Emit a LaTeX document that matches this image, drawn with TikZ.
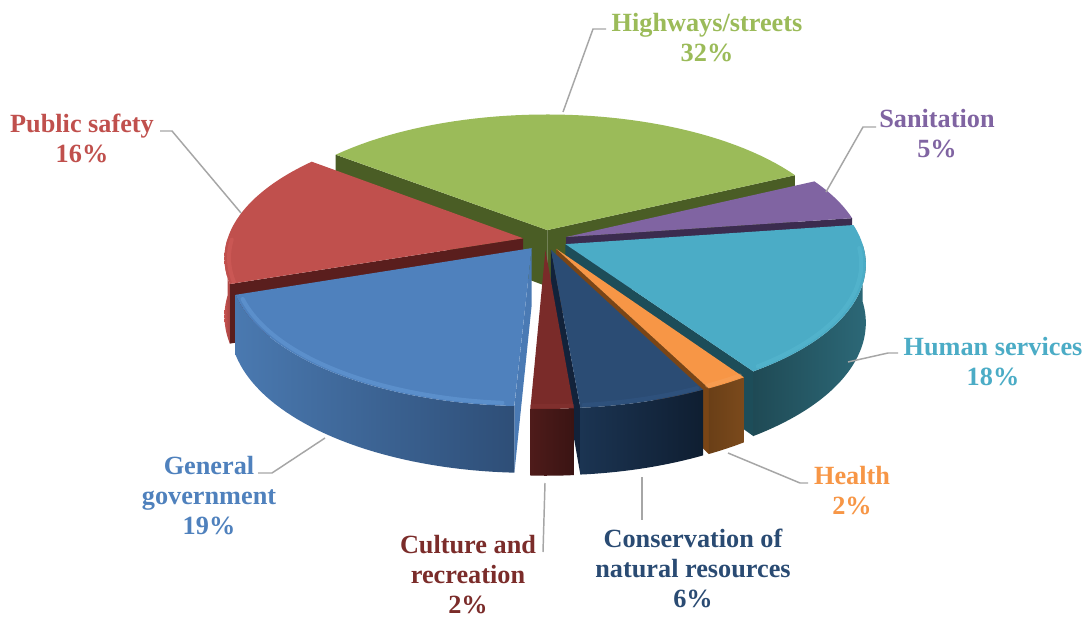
\documentclass[tikz,border=0pt]{standalone}
\usepackage{fontspec}
\setmainfont{Liberation Serif}
\definecolor{cHw}{HTML}{9BBB59}
\definecolor{cHwS}{HTML}{4A5D25}
\definecolor{cSa}{HTML}{8064A2}
\definecolor{cSaS}{HTML}{3B2C4F}
\definecolor{cHs}{HTML}{4BACC6}
\definecolor{cHsS}{HTML}{1D4D59}
\definecolor{cHsL}{HTML}{1F4A55}
\definecolor{cHsR}{HTML}{2C6877}
\definecolor{cHsH}{HTML}{5BBCD4}
\definecolor{cHe}{HTML}{F79646}
\definecolor{cHeS}{HTML}{7A4516}
\definecolor{cHeL}{HTML}{6A3F17}
\definecolor{cHeR}{HTML}{7B4A1C}
\definecolor{cCo}{HTML}{2B4C74}
\definecolor{cCoS}{HTML}{12223A}
\definecolor{cCoL}{HTML}{1B3452}
\definecolor{cCoR}{HTML}{0F1E31}
\definecolor{cCoH}{HTML}{34598A}
\definecolor{cCu}{HTML}{7A2B29}
\definecolor{cCuL}{HTML}{4E1B1A}
\definecolor{cCuR}{HTML}{3A1413}
\definecolor{cCuH}{HTML}{8A3533}
\definecolor{cGg}{HTML}{4F81BD}
\definecolor{cGgS}{HTML}{4A7AB4}
\definecolor{cGgL}{HTML}{4A79B0}
\definecolor{cGgR}{HTML}{2E4E77}
\definecolor{cGgH}{HTML}{6FA6E2}
\definecolor{cPs}{HTML}{C0504D}
\definecolor{cPsS}{HTML}{5A1E1D}
\definecolor{cPsL}{HTML}{C5524F}
\definecolor{cPsR}{HTML}{A64442}
\definecolor{cPsH}{HTML}{DA6360}
\definecolor{cHeH}{HTML}{F9A660}
\definecolor{cLead}{HTML}{A6A6A6}
\definecolor{cCuT}{HTML}{7B2C2A}
\definecolor{cCoT}{HTML}{2A4B73}
% #1 a1 (larger angle) #2 a2 #3 top #4 radial #5 outer left #6 outer right #7 rim
\newcommand\PieSlc[7]{%
 \pgfmathsetmacro\mm{(#1+#2)/2}%
 \pgfmathsetmacro\ou{0.075*cos(\mm)}%
 \pgfmathsetmacro\ov{0.075*sin(\mm)}%
 \pgfmathsetmacro\lo{max(#2,-180)}%
 \pgfmathsetmacro\hi{min(#1,0)}%
 \pgfmathtruncatemacro\visO{\lo<\hi ? 1 : 0}%
 \pgfmathtruncatemacro\visA{cos(#1)<0 ? 1 : 0}%
 \pgfmathtruncatemacro\visB{cos(#2)>0 ? 1 : 0}%
 \coordinate (At) at ({SX(\ou,\ov)},{SY(\ou,\ov,0)});
 \coordinate (Ab) at ({SX(\ou,\ov)},{SY(\ou,\ov,1)});
 \ifnum\visA=1
  \fill[#4] (At) -- ({SX(cos(#1)+\ou,sin(#1)+\ov)},{SY(cos(#1)+\ou,sin(#1)+\ov,0)})
   -- ({SX(cos(#1)+\ou,sin(#1)+\ov)},{SY(cos(#1)+\ou,sin(#1)+\ov,1)}) -- (Ab) -- cycle;
 \fi
 \ifnum\visB=1
  \fill[#4] (At) -- ({SX(cos(#2)+\ou,sin(#2)+\ov)},{SY(cos(#2)+\ou,sin(#2)+\ov,0)})
   -- ({SX(cos(#2)+\ou,sin(#2)+\ov)},{SY(cos(#2)+\ou,sin(#2)+\ov,1)}) -- (Ab) -- cycle;
 \fi
 \ifnum\visO=1
  \shade[left color=#5,right color=#6]
   plot[domain=0:1,samples=40,variable=\s]
    ({SX(cos(\lo+(\hi-\lo)*\s)+\ou,sin(\lo+(\hi-\lo)*\s)+\ov)},{SY(cos(\lo+(\hi-\lo)*\s)+\ou,sin(\lo+(\hi-\lo)*\s)+\ov,0)})
   -- plot[domain=0:1,samples=40,variable=\s]
    ({SX(cos(\hi-(\hi-\lo)*\s)+\ou,sin(\hi-(\hi-\lo)*\s)+\ov)},{SY(cos(\hi-(\hi-\lo)*\s)+\ou,sin(\hi-(\hi-\lo)*\s)+\ov,1)})
   -- cycle;
 \fi
 \fill[#3] (At) -- plot[domain=0:1,samples=50,variable=\s]
    ({SX(cos(#2+(#1-#2)*\s)+\ou,sin(#2+(#1-#2)*\s)+\ov)},{SY(cos(#2+(#1-#2)*\s)+\ou,sin(#2+(#1-#2)*\s)+\ov,0)}) -- cycle;
 \ifnum\visO=1
  \draw[#7,line width=3pt,line cap=round,opacity=0.4]
   plot[domain=0.03:0.97,samples=40,variable=\s]
    ({SX(0.985*cos(\lo+(\hi-\lo)*\s)+\ou,0.985*sin(\lo+(\hi-\lo)*\s)+\ov)},{SY(0.985*cos(\lo+(\hi-\lo)*\s)+\ou,0.985*sin(\lo+(\hi-\lo)*\s)+\ov,0)});
 \fi
}
\begin{document}
\begin{tikzpicture}[x=0.75pt,y=0.75pt,
 declare function={
  ww(\xb)=1+0.137*\xb;
  SX(\xa,\xb)=545+296*\xa/ww(\xb);
  SY(\xa,\xb,\xc)=-240+(134*\xb-57*\xc)/ww(\xb);
 },
 lab/.style={font=\fontsize{19.7pt}{22.5pt}\selectfont\bfseries, align=center, inner sep=0pt},
 lead/.style={draw=cLead, line width=1.1pt}]
\fill[white] (0,0) rectangle (1092,-620);
\useasboundingbox (0,0) rectangle (1092,-620);
% slices, back to front
\PieSlc{141.5}{26.3}{cHw}{cHwS}{cHwS}{cHwS}{cHw}
\PieSlc{26.3}{8.3}{cSa}{cSaS}{cSaS}{cSaS}{cSa}
\PieSlc{-160.9}{-218.5}{cPs}{cPsS}{cPsL}{cPsR}{cPsH}
\PieSlc{8.3}{-56.5}{cHs}{cHsS}{cHsL}{cHsR}{cHsH}
\PieSlc{-92.5}{-160.9}{cGg}{cGgS}{cGgL}{cGgR}{cGgH}
\PieSlc{-56.5}{-63.7}{cHe}{cHeS}{cHeL}{cHeR}{cHeH}
\PieSlc{-63.7}{-85.3}{cCo}{cCoS}{cCoL}{cCoR}{cCoH}
\PieSlc{-85.3}{-92.5}{cCu}{cCuL}{cCuL}{cCuR}{cCuH}
% labels
\node[lab, text=cHw] (hwL) at (707,-38) {Highways/streets\\32\%};
\node[lab, text=cPs] (psL) at (82,-138) {Public safety\\16\%};
\node[lab, text=cSa] (saL) at (937,-134) {Sanitation\\5\%};
\node[lab, text=cHs] (hsL) at (993,-362) {Human services\\18\%};
\node[lab, text=cHe] (heL) at (852,-491) {Health\\2\%};
\node[lab, text=cCoT] (coL) at (693,-568) {Conservation of\\natural resources\\6\%};
\node[lab, text=cCuT] (cuL) at (468,-575) {Culture and\\recreation\\2\%};
\node[lab, text=cGg] (ggL) at (209,-496) {General\\government\\19\%};
% leader lines
\coordinate (hwA) at (563,-112); \coordinate (hwB) at (593,-29); \coordinate (hwC) at (606,-29);
\draw[lead] (hwA) -- (hwB) -- (hwC);
\coordinate (psA) at (241,-213); \coordinate (psB) at (172,-131); \coordinate (psC) at (160,-131);
\draw[lead] (psA) -- (psB) -- (psC);
\coordinate (saA) at (826,-192); \coordinate (saB) at (863,-127); \coordinate (saC) at (876,-127);
\draw[lead] (saA) -- (saB) -- (saC);
\coordinate (hsA) at (848,-362); \coordinate (hsB) at (888,-353); \coordinate (hsC) at (898,-353);
\draw[lead] (hsA) -- (hsB) -- (hsC);
\coordinate (heA) at (728,-453); \coordinate (heB) at (800,-483); \coordinate (heC) at (808,-483);
\draw[lead] (heA) -- (heB) -- (heC);
\coordinate (coA) at (642,-477); \coordinate (coB) at (642,-520);
\draw[lead] (coA) -- (coB);
\coordinate (cuA) at (545,-483); \coordinate (cuB) at (543,-552);
\draw[lead] (cuA) -- (cuB);
\coordinate (ggA) at (325,-438); \coordinate (ggB) at (272,-473); \coordinate (ggC) at (258,-473);
\draw[lead] (ggA) -- (ggB) -- (ggC);
\end{tikzpicture}
\end{document}
